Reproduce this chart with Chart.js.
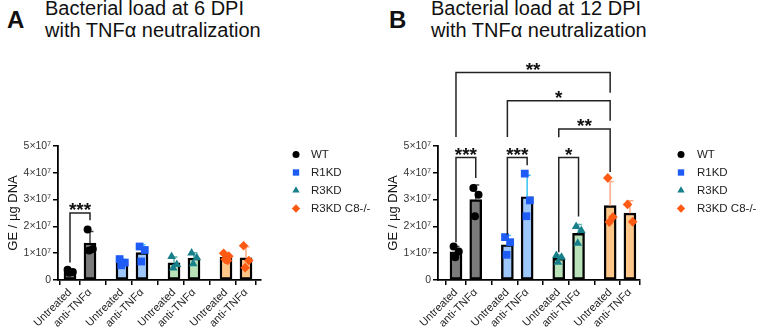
<!DOCTYPE html>
<html>
<head>
<meta charset="utf-8">
<script src="https://cdn.jsdelivr.net/npm/chart.js@4.4.0/dist/chart.umd.min.js"></script>
<style>
  body { margin: 0; width: 761px; height: 330px; background: #fff; position: relative; overflow: hidden; font-family: Arial, 'Liberation Sans', sans-serif; color: #111; }
  .panel { position: absolute; top: 0; height: 330px; }
  .letter { position: absolute; font-weight: bold; font-size: 24px; line-height: 24px; }
  .title { position: absolute; font-size: 20px; line-height: 22px; white-space: nowrap; }
</style>
</head>
<body>
<div class="letter" style="left:7px;top:8px">A</div>
<div class="title" style="left:45px;top:-3px">Bacterial load at 6 DPI<br>with TNFα neutralization</div>
<div class="letter" style="left:389px;top:8px">B</div>
<div class="title" style="left:431px;top:-3px">Bacterial load at 12 DPI<br>with TNFα neutralization</div>
<div class="panel" style="left:0;width:380px"><canvas id="chartA" width="380" height="330"></canvas></div>
<div class="panel" style="left:380px;width:381px"><canvas id="chartB" width="381" height="330"></canvas></div>

<script>
// ============================================================================
// DATA  (GE per µg DNA, in units of 10^7; each entry = [untreated, anti-TNFα])
// ============================================================================
const GROUPS = ['WT', 'R1KD', 'R3KD', 'R3KD C8-/-'];
const TREATMENTS = ['Untreated', 'anti-TNFα'];
const Y_MAX = 5;

const wt6 = [[0.38, 0.30, 0.27], [1.88, 1.16, 1.10]];
const r1kd6 = [[0.78, 0.65, 0.55], [1.25, 1.12, 0.69]];
const r3kd6 = [[0.88, 0.58, 0.45], [1.01, 0.83, 0.61]];
const c8ko6 = [[1.00, 0.89, 0.77, 0.73], [1.28, 0.73, 0.46]];

const wt12 = [[1.25, 1.06, 0.85], [3.43, 3.18, 2.38]];
const r1kd12 = [[1.60, 1.41, 0.94], [3.97, 2.97, 2.38]];
const r3kd12 = [[0.91, 0.85, 0.66], [2.00, 1.85, 1.37]];
const c8ko12 = [[3.81, 2.35, 2.16], [2.82, 2.17]];

// significance: [bar from, bar to, label]  (bar index = group * 2 + treatment)
const sig6 = [[0, 1, '***']];
const sig12 = [[0, 1, '***'], [2, 3, '***'], [4, 5, '*'], [4, 6, '**'], [2, 6, '*'], [0, 6, '**']];

// ============================================================================
// STYLE / LAYOUT
// ============================================================================
const STYLES = [
    { fill: '#7b7b7b', point: '#000000', err: '#444444', shape: 'circle', r: 4, lr: 3.5 },
    { fill: '#9dc6fb', point: '#1f5cf5', err: '#35c3f5', shape: 'rect', r: 5.5, lr: 4.5 },
    { fill: '#b9e2b9', point: '#17808a', err: '#5fb3b3', shape: 'triangle', r: 5, lr: 4.2 },
    { fill: '#ffc68a', point: '#ff5a14', err: '#ffab85', shape: 'rectRot', r: 4.8, lr: 4.2 }
];
const GROUP_STEP = 2.6;
const JITTER = [-0.12, 0.14, -0.04, 0.08];
const FONT = 'Arial, "Liberation Sans", sans-serif';

// bracket geometry in y units: line height and the two leg ends
const bracketsA = [{ line: 2.5, legs: [0.65, 2.23] }];
const bracketsB = [
    { line: 4.57, legs: [1.41, 3.81] },
    { line: 4.57, legs: [1.69, 4.28] },
    { line: 4.57, legs: [1.04, 2.37] },
    { line: 5.63, legs: [5.33, 4.03] },
    { line: 6.69, legs: [5.34, 5.94] },
    { line: 7.74, legs: [5.34, 6.99] }
];

function xPos(g, t) { return g * GROUP_STEP + t; }
function mean(a) { return a.reduce((s, v) => s + v, 0) / a.length; }
function sd(a) {
    const m = mean(a);
    return Math.sqrt(a.reduce((s, v) => s + (v - m) ** 2, 0) / (a.length - 1));
}

const POSITIONS = [];
GROUPS.forEach((_, g) => TREATMENTS.forEach((_, t) => POSITIONS.push(xPos(g, t))));

function buildDatasets(groups) {
    const sets = [];
    groups.forEach((pts, g) => {
        const st = STYLES[g];
        sets.push({
            type: 'bar',
            label: GROUPS[g],
            data: pts.map((p, t) => ({ x: xPos(g, t), y: mean(p) })),
            sd: pts.map(sd),
            errColor: st.err,
            backgroundColor: st.fill,
            borderColor: '#000',
            borderWidth: 2.4,
            borderSkipped: false,
            barThickness: 12,
            grouped: false,
            order: 2
        });
        sets.push({
            type: 'scatter',
            label: GROUPS[g],
            data: pts.flatMap((p, t) => p.map((v, k) => ({ x: xPos(g, t) + JITTER[k], y: v }))),
            pointStyle: st.shape,
            pointRadius: st.r,
            pointHoverRadius: st.r,
            backgroundColor: st.point,
            borderColor: st.point,
            borderWidth: 0,
            order: 1
        });
    });
    return sets;
}

// error bars (mean + SD, upward only), drawn between bars and points
const errorBars = {
    id: 'errorBars',
    afterDatasetDraw(chart, args) {
        const ds = chart.data.datasets[args.index];
        if (ds.type !== 'bar') return;
        const ctx = chart.ctx;
        const y = chart.scales.y;
        args.meta.data.forEach((bar, i) => {
            const top = y.getPixelForValue(ds.data[i].y + ds.sd[i]);
            ctx.save();
            ctx.strokeStyle = ds.errColor;
            ctx.lineWidth = 1.5;
            ctx.beginPath();
            ctx.moveTo(bar.x, bar.y);
            ctx.lineTo(bar.x, top);
            ctx.moveTo(bar.x - 3.5, top);
            ctx.lineTo(bar.x + 3.5, top);
            ctx.stroke();
            ctx.restore();
        });
    }
};

// significance brackets + stars
const sigBrackets = {
    id: 'sigBrackets',
    afterDraw(chart, args, opts) {
        const ctx = chart.ctx;
        const xs = chart.scales.x, ys = chart.scales.y;
        opts.items.forEach(([a, b, label], i) => {
            const geo = opts.geometry[i];
            const x1 = xs.getPixelForValue(POSITIONS[a]);
            const x2 = xs.getPixelForValue(POSITIONS[b]);
            const yl = ys.getPixelForValue(geo.line);
            ctx.save();
            ctx.strokeStyle = '#222';
            ctx.lineWidth = 1.5;
            ctx.beginPath();
            ctx.moveTo(x1, ys.getPixelForValue(geo.legs[0]));
            ctx.lineTo(x1, yl);
            ctx.lineTo(x2, yl);
            ctx.lineTo(x2, ys.getPixelForValue(geo.legs[1]));
            ctx.stroke();
            ctx.fillStyle = '#111';
            ctx.font = 'bold 19px ' + FONT;
            ctx.textAlign = 'center';
            ctx.textBaseline = 'alphabetic';
            ctx.fillText(label, (x1 + x2) / 2, yl + 3);
            ctx.restore();
        });
    }
};

// legend on the right of each panel
const sideLegend = {
    id: 'sideLegend',
    afterDraw(chart, args, opts) {
        const ctx = chart.ctx;
        GROUPS.forEach((name, g) => {
            const st = STYLES[g];
            const y = opts.top + g * 18;
            ctx.save();
            ctx.fillStyle = st.point;
            ctx.strokeStyle = st.point;
            Chart.helpers.drawPoint(ctx, { pointStyle: st.shape, radius: st.lr, rotation: 0, borderWidth: 0 }, opts.markerX, y);
            ctx.fillStyle = '#222';
            ctx.font = '11.5px ' + FONT;
            ctx.textAlign = 'left';
            ctx.textBaseline = 'middle';
            ctx.fillText(name, opts.textX, y + 0.5);
            ctx.restore();
        });
    }
};

function renderPanel(canvasId, groups, sig, geometry, xRange, legendPos, padRight) {
    const ctx = document.getElementById(canvasId).getContext('2d');
    return new Chart(ctx, {
        type: 'bar',
        data: { datasets: buildDatasets(groups) },
        plugins: [errorBars, sigBrackets, sideLegend],
        options: {
            responsive: false,
            animation: false,
            layout: { padding: { top: 146, right: padRight, bottom: 0, left: 0 } },
            plugins: {
                legend: { display: false },
                tooltip: { enabled: false },
                sigBrackets: { items: sig, geometry: geometry },
                sideLegend: legendPos
            },
            scales: {
                x: {
                    type: 'linear',
                    min: xRange[0],
                    max: xRange[1],
                    offset: false,
                    afterBuildTicks: scale => { scale.ticks = POSITIONS.map(v => ({ value: v })); },
                    afterFit: scale => { scale.height = 50; },
                    grid: { drawOnChartArea: false, drawTicks: true, tickLength: 5, color: '#000', lineWidth: 1.5 },
                    border: { display: true, color: '#000', width: 1.8 },
                    ticks: {
                        autoSkip: false,
                        minRotation: 45,
                        maxRotation: 45,
                        padding: 1,
                        color: '#222',
                        font: { family: FONT, size: 11 },
                        callback: (v, i) => TREATMENTS[i % 2]
                    }
                },
                y: {
                    min: 0,
                    max: Y_MAX,
                    afterFit: scale => { scale.width = 58; },
                    grid: { drawOnChartArea: false, drawTicks: true, tickLength: 5, color: '#000', lineWidth: 1.5 },
                    border: { display: true, color: '#000', width: 1.8 },
                    title: {
                        display: true,
                        text: 'GE / µg DNA',
                        color: '#111',
                        font: { family: FONT, size: 13 },
                        padding: { top: 6, bottom: 0 }
                    },
                    ticks: {
                        stepSize: 1,
                        padding: 2,
                        color: '#333',
                        font: { family: FONT, size: 10.5 },
                        callback: v => (v === 0 ? '0' : v + '×10⁷')
                    }
                }
            }
        }
    });
}

renderPanel('chartA', [wt6, r1kd6, r3kd6, c8ko6], sig6, bracketsA, [-0.6, 9.55],
    { top: 154.5, markerX: 296, textX: 311 }, 119);
renderPanel('chartB', [wt12, r1kd12, r3kd12, c8ko12], sig12, bracketsB, [-0.91, 9.31],
    { top: 154.5, markerX: 301, textX: 317 }, 121);
</script>
</body>
</html>
